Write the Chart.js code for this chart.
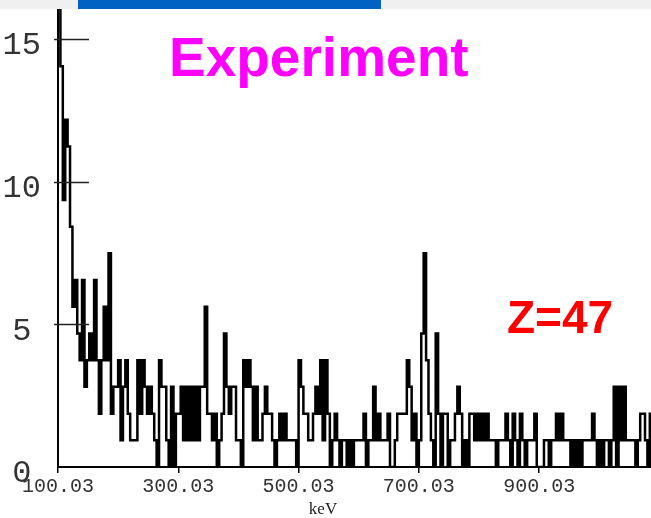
<!DOCTYPE html>
<html>
<head>
<meta charset="utf-8">
<script src="https://cdn.jsdelivr.net/npm/chart.js@4"></script>
<style>
  html, body { margin: 0; padding: 0; background: #fff; }
  #wrap { position: relative; width: 651px; height: 518px; }
  #bar { position: absolute; left: 0; top: 0; width: 651px; height: 9px; background: #f0f0f0; }
  #barBlue { position: absolute; left: 78px; top: 0; width: 303px; height: 9px; background: #0063c3; }
  canvas { position: absolute; left: 0; top: 0; }
</style>
</head>
<body>
<div id="wrap">
  <canvas id="spectrum" width="651" height="518"></canvas>
  <div id="bar"></div>
  <div id="barBlue"></div>
</div>
<script>
// spectrum counts per 4 keV channel, starting at 100.03 keV
const binStart = 100.03;
const binWidth = 4;
const counts = [
    16.85, 14.04, 9.36, 12.17, 11.23, 8.42, 5.62, 6.55, 4.68, 3.74,
    6.55, 2.81, 3.74, 4.68, 3.74, 6.55, 3.74, 1.87, 3.74, 5.62,
    3.74, 7.49, 1.87, 2.81, 2.81, 3.74, 0.94, 2.81, 3.74, 1.87,
    0.94, 0.94, 0.94, 3.74, 1.87, 3.74, 2.81, 1.87, 2.81, 1.87,
    0.94, 0, 3.74, 2.81, 2.81, 0.94, 0, 2.81, 0, 1.87,
    1.87, 2.81, 0.94, 2.81, 0.94, 2.81, 0.94, 2.81, 0.94, 2.81,
    2.81, 5.62, 1.87, 1.87, 0.94, 1.87, 0, 0.94, 1.87, 4.68,
    2.81, 1.87, 2.81, 2.81, 0.94, 0.94, 0, 3.74, 2.81, 3.74,
    2.81, 0.94, 2.81, 0.94, 0.94, 1.87, 2.81, 1.87, 1.87, 0.94,
    0, 0.94, 1.87, 0.94, 1.87, 0.94, 0.94, 0.94, 0.94, 0,
    3.74, 2.81, 1.87, 1.87, 0.94, 0.94, 1.87, 2.81, 1.87, 3.74,
    0.94, 3.74, 1.87, 0, 0.94, 1.87, 0.94, 0, 0.94, 0.94,
    0, 0.94, 0, 0.94, 0.94, 0.94, 0.94, 1.87, 0, 0.94,
    0.94, 2.81, 0.94, 1.87, 0.94, 0.94, 0.94, 1.87, 0, 0,
    0.94, 1.87, 1.87, 1.87, 1.87, 3.74, 2.81, 0.94, 1.87, 0,
    0.94, 4.68, 7.49, 3.74, 1.87, 0.94, 0, 4.68, 1.87, 0,
    1.87, 1.87, 0, 0.94, 0.94, 1.87, 2.81, 1.87, 0, 0.94,
    0, 1.87, 1.87, 0.94, 1.87, 0.94, 1.87, 0.94, 1.87, 0.94,
    0.94, 0.94, 0, 0.94, 0.94, 0.94, 1.87, 0.94, 0, 1.87,
    0.94, 0, 1.87, 0.94, 0, 0.94, 0.94, 0.94, 1.87, 0,
    0, 0, 0.94, 0.94, 0, 0.94, 0.94, 1.87, 0.94, 1.87,
    0.94, 0.94, 0.94, 0, 0.94, 0, 0.94, 0, 0.94, 0.94,
    0.94, 0.94, 1.87, 0.94, 0, 0.94, 0, 0.94, 0.94, 0,
    0.94, 2.81, 0, 2.81, 0.94, 2.81, 0.94, 0.94, 0.94, 0.94,
    0, 0.94, 1.87, 1.87, 0.94, 0, 1.87, 0.94
];

// axis ticks
const xTicks = [100.03, 300.03, 500.03, 700.03, 900.03];
const xTickLabels = ['100.03', '300.03', '500.03', '700.03', '900.03'];
const yTicks = [0, 5, 10, 15];
const yTickLabels = ['0', '5', '10', '15'];

const xTitle = 'keV';
const chartTitle = 'Experiment';
const sampleLabel = 'Z=47';

//channel start energies -> points for the stepped line, plus closing edge of last channel
let points = counts.map((c, i) => ({ x: binStart + i * binWidth, y: c }));
points.push({ x: binStart + counts.length * binWidth, y: counts[counts.length - 1] });

const monoFont = "'Liberation Mono', 'DejaVu Sans Mono', monospace";

//draws the crossing y ticks and the text labels on top of the plot
const decorPlugin = {
    id: 'decor',
    afterDraw(chart) {
        const ctx = chart.ctx;
        const y = chart.scales.y;
        const left = chart.chartArea.left;
        ctx.save();
        ctx.strokeStyle = '#222';
        ctx.lineWidth = 1.5;
        yTicks.filter(v => v > 0).forEach(v => {
            const py = Math.round(y.getPixelForValue(v)) + 0.5;
            ctx.beginPath();
            ctx.moveTo(left - 4, py);
            ctx.lineTo(left + 31, py);
            ctx.stroke();
        });

        ctx.textBaseline = 'alphabetic';
        ctx.textAlign = 'left';
        ctx.fillStyle = '#ff00ff';
        ctx.font = "bold 55px 'Liberation Sans', Arial, sans-serif";
        ctx.fillText(chartTitle, 169, 76);

        ctx.fillStyle = '#ff0000';
        ctx.font = "bold 46px 'Liberation Sans', Arial, sans-serif";
        ctx.fillText(sampleLabel, 507, 333);

        ctx.fillStyle = '#222';
        ctx.textAlign = 'center';
        ctx.font = "17px 'Liberation Serif', 'DejaVu Serif', serif";
        ctx.fillText(xTitle, 323, 514);
        ctx.restore();
    }
};

new Chart(document.getElementById('spectrum'), {
    type: 'line',
    data: {
        datasets: [{
            data: points,
            stepped: 'before',
            borderColor: '#000',
            borderWidth: 2.5,
            pointRadius: 0,
            fill: false
        }]
    },
    options: {
        responsive: false,
        animation: false,
        layout: { padding: { top: 9, right: 0, left: 0, bottom: 0 } },
        plugins: {
            legend: { display: false },
            tooltip: { enabled: false }
        },
        scales: {
            x: {
                type: 'linear',
                min: 100.03,
                max: 1086,
                afterFit: (scale) => {
                    scale.height = 51;
                    scale.paddingLeft = 0;
                    scale.paddingRight = 0;
                },
                afterBuildTicks: (scale) => { scale.ticks = xTicks.map(v => ({ value: v })); },
                border: { display: true, color: '#000', width: 2 },
                grid: { drawOnChartArea: false, drawTicks: true, tickLength: 6, color: '#000', lineWidth: 1.5 },
                ticks: {
                    autoSkip: false,
                    maxRotation: 0,
                    padding: 2,
                    color: '#333',
                    font: { family: monoFont, size: 20 },
                    callback: (value) => {
                        const i = xTicks.indexOf(value);
                        return i >= 0 ? xTickLabels[i] : '';
                    }
                }
            },
            y: {
                type: 'linear',
                min: 0,
                max: 16.05,
                afterFit: (scale) => {
                    scale.width = 58;
                    scale.paddingTop = 0;
                    scale.paddingBottom = 0;
                },
                afterBuildTicks: (scale) => { scale.ticks = yTicks.map(v => ({ value: v })); },
                border: { display: true, color: '#000', width: 2 },
                grid: { display: false, drawTicks: false },
                ticks: {
                    autoSkip: false,
                    padding: 17,
                    labelOffset: 7,
                    crossAlign: 'center',
                    color: '#333',
                    font: { family: monoFont, size: 32 },
                    callback: (value) => {
                        const i = yTicks.indexOf(value);
                        return i >= 0 ? yTickLabels[i] : '';
                    }
                }
            }
        }
    },
    plugins: [decorPlugin]
});
</script>
</body>
</html>
